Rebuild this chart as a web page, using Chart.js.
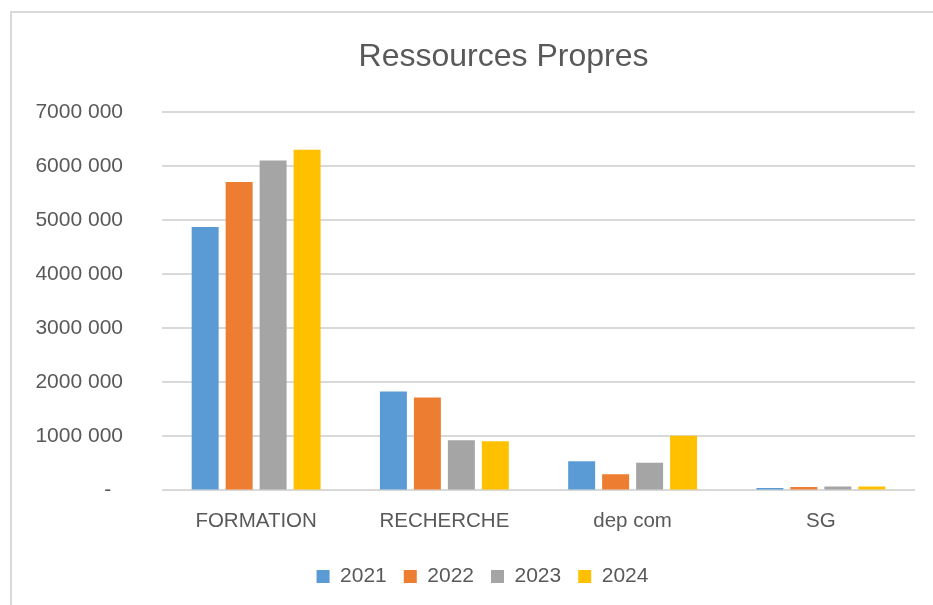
<!DOCTYPE html>
<html>
<head>
<meta charset="utf-8">
<script src="https://cdn.jsdelivr.net/npm/chart.js@4"></script>
<style>
  html, body { margin: 0; padding: 0; background: #fff; }
  #frame {
    position: absolute;
    left: 10px;
    top: 11px;
    width: 921px;
    height: 592px;
    border-top: 2px solid #d9d9d9;
    border-left: 2px solid #d9d9d9;
  }
  canvas { display: block; }
</style>
</head>
<body>
<div id="frame"><canvas id="chart" width="921" height="592"></canvas></div>
<script>
// categories and series
const categories = ["FORMATION", "RECHERCHE", "dep com", "SG"];
const years = ["2021", "2022", "2023", "2024"];
const values2021 = [4880000, 1830000, 540000, 45000];
const values2022 = [5710000, 1720000, 300000, 65000];
const values2023 = [6110000, 930000, 510000, 70000];
const values2024 = [6310000, 910000, 1010000, 70000];
const yTickLabels = ["-  ", "1000 000", "2000 000", "3000 000", "4000 000", "5000 000", "6000 000", "7000 000"];

const colors = ["#5B9BD5", "#ED7D31", "#A5A5A5", "#FFC000"];
const textColor = "#595959";
const fontFamily = "'Liberation Sans', Arial, sans-serif";

// excel centres title and legend a bit right of the canvas middle
const shiftBlocks = {
  id: "shiftBlocks",
  afterLayout(chart) {
    chart.titleBlock.left += 35;
    chart.titleBlock.right += 35;
    chart.legend.left += 14;
    chart.legend.right += 14;
  }
};

const ctx = document.getElementById("chart").getContext("2d");

new Chart(ctx, {
  type: "bar",
  data: {
    labels: categories,
    datasets: [values2021, values2022, values2023, values2024].map((vals, i) => ({
      label: years[i],
      data: vals,
      backgroundColor: colors[i],
      borderWidth: 0,
      categoryPercentage: 0.722,
      barPercentage: 0.794,
    })),
  },
  options: {
    responsive: false,
    animation: false,
    layout: {
      padding: { left: 10, right: 18, top: 0, bottom: 8 }
    },
    scales: {
      x: {
        grid: { display: false, drawTicks: false },
        border: { display: false },
        ticks: {
          color: textColor,
          font: { family: fontFamily, size: 20.5 },
          padding: 19,
        },
        afterFit: scale => { scale.height -= 4; },
      },
      y: {
        min: 0,
        max: 7000000,
        grid: { color: "#d9d9d9", lineWidth: 2, drawTicks: false },
        border: { display: false },
        ticks: {
          stepSize: 1000000,
          color: textColor,
          font: { family: fontFamily, size: 21 },
          padding: 39,
          callback: (value, index) => yTickLabels[index],
        },
        afterFit: scale => { scale.width = 140; },
      },
    },
    plugins: {
      title: {
        display: true,
        text: "Ressources Propres",
        color: textColor,
        font: { family: fontFamily, size: 32, weight: "normal" },
        padding: { top: 25, bottom: 36 },
      },
      legend: {
        position: "bottom",
        labels: {
          color: textColor,
          font: { family: fontFamily, size: 21 },
          boxWidth: 13,
          boxHeight: 13,
          padding: 17,
        },
      },
      tooltip: { enabled: false },
    },
  },
  plugins: [shiftBlocks],
});
</script>
</body>
</html>
